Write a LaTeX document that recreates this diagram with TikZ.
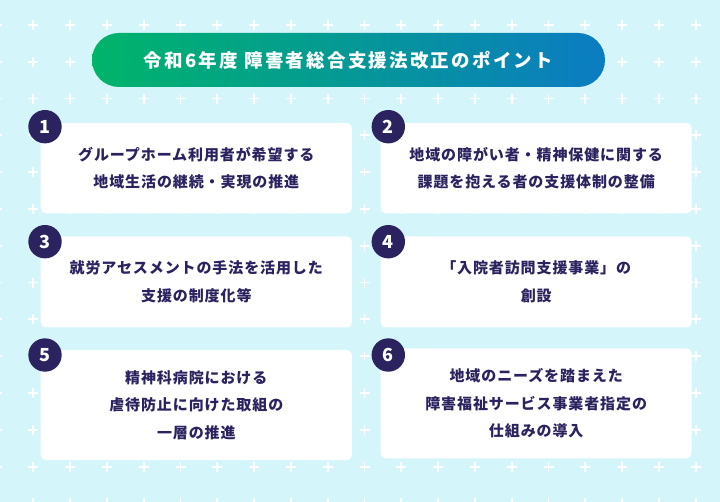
\documentclass[tikz,border=0pt]{standalone}
\usepackage{fontspec}
\newfontfamily\jpbox{Noto Sans CJK JP}[LetterSpace=6]
\newfontfamily\jptitle{Noto Sans CJK JP}[LetterSpace=12]
\newfontfamily\jpnum{Noto Sans CJK JP}
\definecolor{bgc}{HTML}{D4F5FA}
\definecolor{navy}{HTML}{2A2360}
\definecolor{gstart}{HTML}{00B46A}
\definecolor{gend}{HTML}{0B7CC2}
\tikzset{
  boxnode/.style={fill=white, rounded corners=5pt, inner sep=0pt, align=center, text=navy,
    font=\jpbox\bfseries\fontsize{15}{27.7}\selectfont},
  numc/.style={circle, fill=navy, minimum size=33.4pt, inner sep=0pt, text=white,
    font=\jpnum\bfseries\fontsize{18}{18}\selectfont},
  titlenode/.style={rectangle, rounded corners=27pt, left color=gstart, right color=gend,
    minimum width=513pt, minimum height=54pt, inner sep=0pt, text=white,
    font=\jptitle\bfseries\fontsize{18.5}{18.5}\selectfont},
  plusmark/.style={white, line width=1.8pt}
}
\begin{document}
\begin{tikzpicture}[x=1pt,y=-1pt]
\useasboundingbox (0,0) rectangle (720,502);
\fill[bgc] (0,0) rectangle (720,502);
\foreach \i in {-1,...,18}{
  \foreach \j in {0,...,13}{
    \draw[plusmark] ({33.3+36.8*\i-5},{25+36.8*\j}) -- ++(10,0)
                    ({33.3+36.8*\i},{25+36.8*\j-5}) -- ++(0,10);
  }
}
\node[titlenode] (title) at (348.5,60) {令和6年度 障害者総合支援法改正のポイント};

\node[boxnode, minimum width=311.3pt, minimum height=90.3pt] (b1) at (196.3,168.2)
  {グループホーム利用者が希望する\\地域生活の継続・実現の推進};
\node[boxnode, minimum width=311pt, minimum height=90.3pt] (b2) at (536.2,168.2)
  {地域の障がい者・精神保健に関する\\課題を抱える者の支援体制の整備};
\node[boxnode, minimum width=311.3pt, minimum height=91pt] (b3) at (196.3,282)
  {就労アセスメントの手法を活用した\\支援の制度化等};
\node[boxnode, minimum width=311pt, minimum height=91pt] (b4) at (536.2,282)
  {「入院者訪問支援事業」の\\創設};
\node[boxnode, minimum width=311.3pt, minimum height=110pt] (b5) at (196.3,405)
  {精神科病院における\\虐待防止に向けた取組の\\一層の推進};
\node[boxnode, minimum width=311pt, minimum height=110pt] (b6) at (536.2,403.3)
  {地域のニーズを踏まえた\\障害福祉サービス事業者指定の\\仕組みの導入};

\node[numc] (n1) at (45,126.7) {1};
\node[numc] (n2) at (388.3,126.7) {2};
\node[numc] (n3) at (45,241.7) {3};
\node[numc] (n4) at (388.3,241.7) {4};
\node[numc] (n5) at (45,355) {5};
\node[numc] (n6) at (388.3,355) {6};
\end{tikzpicture}
\end{document}
